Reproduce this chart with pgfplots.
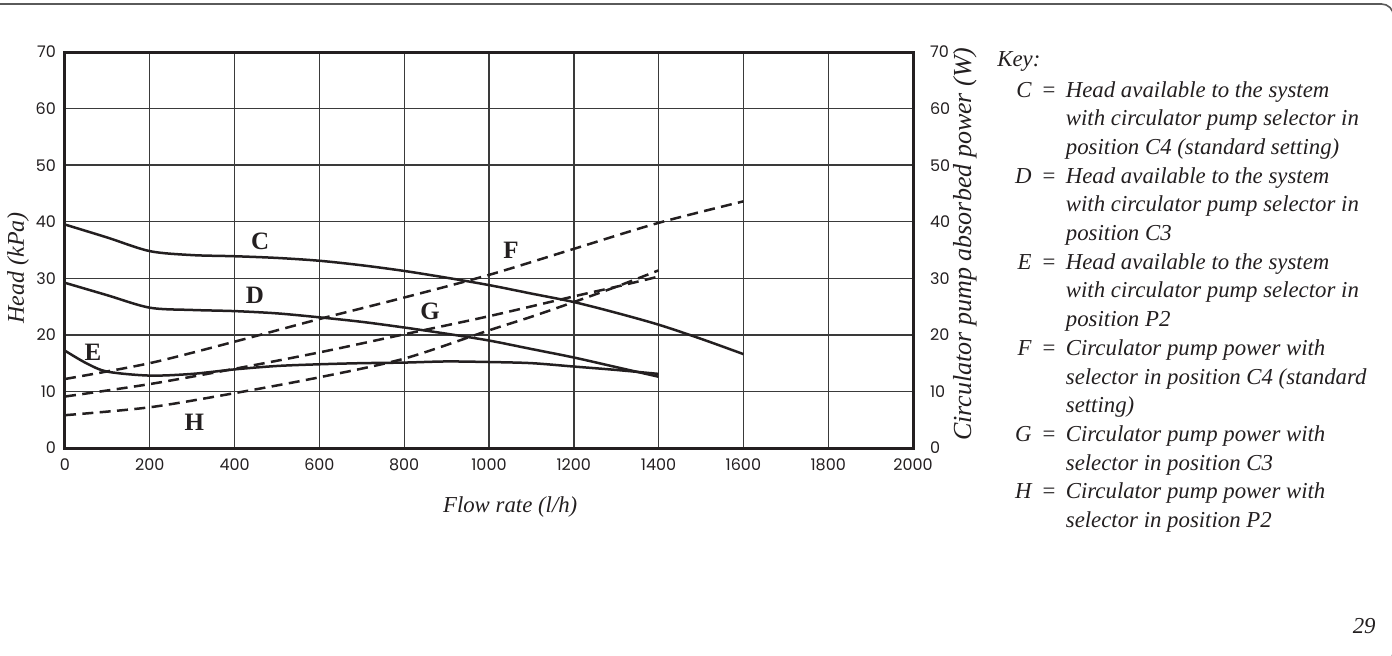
\documentclass[border=0pt]{standalone}
\usepackage{fontspec}
\setmainfont{Liberation Serif}
\newfontfamily\tickfont{Poppins}
\usepackage{pgfplots}
\pgfplotsset{compat=1.18}
\definecolor{ink}{HTML}{231F20}
\definecolor{gridc}{HTML}{3A3A3A}
\definecolor{framec}{HTML}{5A5A5A}
\newcommand\keyfont{\fontsize{11.4}{13.7}\selectfont\itshape}
\newcommand\curvefont{\fontsize{12.5}{14}\selectfont\bfseries}
\pgfplotsset{
  headcurve/.style={ink, line width=1.25pt, smooth, no markers},
  powercurve/.style={ink, line width=1.25pt, smooth, no markers, dash pattern=on 5.5pt off 3.2pt},
}

\pgfplotstableread{
x y
0 39.5
100 37.2
200 34.8
300 34.1
400 33.9
500 33.6
600 33.1
700 32.3
800 31.3
900 30.1
1000 28.8
1100 27.3
1200 25.8
1300 23.9
1400 21.8
1500 19.3
1600 16.6
}\curveC
\pgfplotstableread{
x y
0 29.2
100 27.0
200 24.8
300 24.4
400 24.2
500 23.8
600 23.1
700 22.3
800 21.3
900 20.2
1000 19.0
1100 17.5
1200 16.0
1300 14.3
1400 12.6
}\curveD
\pgfplotstableread{
x y
0 17.2
50 15.0
100 13.5
200 12.8
300 13.1
400 13.9
500 14.5
600 14.8
700 15.0
800 15.1
900 15.3
1000 15.2
1100 15.0
1200 14.4
1300 13.8
1400 13.1
}\curveE
\pgfplotstableread{
x y
0 12.2
200 15.0
400 18.8
600 22.8
800 26.6
1000 30.6
1200 35.2
1400 39.8
1600 43.6
}\curveF
\pgfplotstableread{
x y
0 9.1
200 11.3
400 14.0
600 16.9
800 20.1
1000 23.3
1200 26.8
1300 28.5
1400 30.3
}\curveG
\pgfplotstableread{
x y
0 5.8
200 7.2
400 9.7
600 12.5
800 15.8
1000 20.8
1100 23.2
1200 25.8
1300 28.5
1400 31.4
}\curveH

\begin{document}
\begin{tikzpicture}
\useasboundingbox (0,0) rectangle (696pt,327.5pt);
\begin{axis}[
  at={(32.5pt,103.5pt)}, anchor=south west,
  scale only axis, width=424pt, height=198pt,
  xmin=0, xmax=2000, ymin=0, ymax=70,
  xtick={0,200,...,2000}, ytick={0,10,...,70},
  grid=major, major grid style={gridc, line width=0.7pt},
  axis line style={ink, line width=1.5pt},
  major tick length=0pt,
  /pgf/number format/assume math mode=true,
  /pgf/number format/1000 sep={},
  ticklabel style={font=\tickfont\fontsize{8}{9}\selectfont, text=ink},
  xticklabel style={yshift=-2pt},
  yticklabel style={xshift=-1pt},
  xlabel={\keyfont Flow rate (l/h)},
  xlabel style={at={(axis description cs:0.525,-0.15)}, anchor=center, text=ink},
  ylabel={\fontsize{12}{14}\selectfont\itshape Head (kPa)},
  ylabel style={at={(axis description cs:-0.0554,0.455)}, anchor=center, text=ink},
  clip=false,
]
\addplot[headcurve] table {\curveC};
\addplot[headcurve] table {\curveD};
\addplot[headcurve] table {\curveE};
\node[font=\curvefont, text=ink] at (axis cs:460,36.5) {C};
\node[font=\curvefont, text=ink] at (axis cs:448,26.9) {D};
\node[font=\curvefont, text=ink] at (axis cs:66,17.0) {E};
\node[font=\curvefont, text=ink] at (axis cs:1052,35.0) {F};
\node[font=\curvefont, text=ink] at (axis cs:861,24.2) {G};
\node[font=\curvefont, text=ink] at (axis cs:305,4.6) {H};
\end{axis}
\begin{axis}[
  at={(32.5pt,103.5pt)}, anchor=south west,
  scale only axis, width=424pt, height=198pt,
  xmin=0, xmax=2000, ymin=0, ymax=70,
  axis x line=none, axis y line*=right,
  ytick={0,10,...,70},
  axis line style={ink, line width=1.5pt},
  major tick length=0pt,
  /pgf/number format/assume math mode=true,
  yticklabel style={font=\tickfont\fontsize{8}{9}\selectfont, text=ink, anchor=west, xshift=5pt},
  ylabel={\fontsize{13}{15}\selectfont\itshape Circulator pump absorbed power (W)},
  ylabel style={at={(axis description cs:1.0613,0.515)}, anchor=center, rotate=0, text=ink},
]
\addplot[powercurve] table {\curveF};
\addplot[powercurve] table {\curveG};
\addplot[powercurve] table {\curveH};
\end{axis}
\begin{scope}[x=0.5pt, y=-0.5pt, shift={(0pt,327.5pt)}]
\draw[framec, line width=0.8pt, rounded corners=6pt] (-20,4) -- (1393.5,4) -- (1393.5,663) -- (-20,663);
\node[font=\keyfont, text=ink, anchor=base west, inner sep=0pt] at (997,66.7) {Key:};
\foreach \i/\L/\T in {0/C/Head available to the system,
  1//with circulator pump selector in,
  2//position C4 (standard setting),
  3/D/Head available to the system,
  4//with circulator pump selector in,
  5//position C3,
  6/E/Head available to the system,
  7//with circulator pump selector in,
  8//position P2,
  9/F/Circulator pump power with,
  10//selector in position C4 (standard,
  11//setting),
  12/G/Circulator pump power with,
  13//selector in position C3,
  14/H/Circulator pump power with,
  15//selector in position P2}{
  \pgfmathsetmacro\yb{97.3+28.67*\i}
  \node[font=\keyfont, text=ink, anchor=base west, inner sep=0pt] at (1065.5,\yb) {\T};
  \ifx\L\empty\else
    \node[font=\keyfont, text=ink, anchor=base east, inner sep=0pt] at (1032,\yb) {\L};
    \node[font=\keyfont, text=ink, anchor=base, inner sep=0pt] at (1049,\yb) {\upshape =};
  \fi
}
\node[font=\keyfont, text=ink, anchor=base east, inner sep=0pt] at (1376,633) {29};
\end{scope}
\end{tikzpicture}
\end{document}
